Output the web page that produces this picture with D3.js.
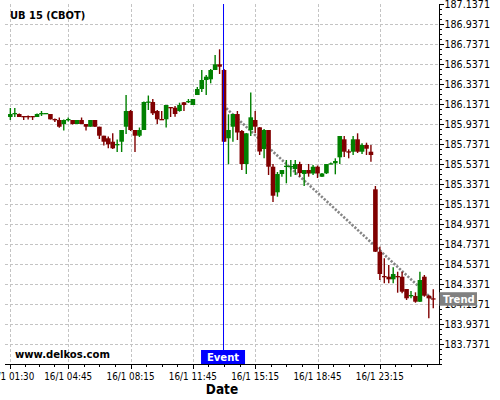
<!DOCTYPE html>
<head>
	<meta charset="utf-8">
	<script src="https://d3js.org/d3.v7.min.js"></script>
	<style>
		body { margin: 0; background: #fff; }
		text { font-family: "DejaVu Sans Condensed", "DejaVu Sans", sans-serif; }
	</style>
</head>
<body>
<svg width="500" height="400"></svg>
<script>
	// candles: open, high, low, close (15 min bars)
	var opens = [186.007, 186.037, 186.037, 186.017, 186.017, 186.017, 186.007, 186.037, 186.042, 186.037,
		185.987, 185.977, 185.937, 185.982, 185.977, 185.937, 185.977, 185.937, 185.910, 185.977,
		185.910, 185.820, 185.794, 185.760, 185.732, 185.760, 185.910, 186.067, 185.877, 185.820,
		185.877, 186.157, 186.157, 186.067, 185.987, 185.984, 186.107, 186.100, 186.067, 186.154,
		186.162, 186.127, 186.227, 186.287, 186.377, 186.384, 186.477, 186.534, 186.477, 185.794,
		185.910, 186.037, 185.867, 185.537, 185.877, 185.977, 185.904, 185.687, 185.877, 185.510,
		185.254, 185.437, 185.517, 185.514, 185.487, 185.537, 185.437, 185.477, 185.442, 185.510,
		185.410, 185.444, 185.542, 185.544, 185.604, 185.784, 185.664, 185.660, 185.784, 185.660,
		185.727, 185.660, 185.284, 184.660, 184.417, 184.410, 184.384, 184.417, 184.410, 184.287,
		184.224, 184.217, 184.160, 184.410, 184.220, 184.194];
	var highs = [186.097, 186.097, 186.042, 186.017, 186.022, 186.017, 186.042, 186.067, 186.047, 186.037,
		185.992, 186.002, 185.982, 186.002, 185.977, 185.977, 186.002, 185.937, 185.977, 185.977,
		185.910, 185.820, 185.812, 185.844, 185.782, 185.877, 186.227, 186.077, 185.877, 185.902,
		186.162, 186.222, 186.187, 186.077, 186.067, 186.127, 186.107, 186.117, 186.150, 186.157,
		186.187, 186.187, 186.307, 186.477, 186.427, 186.487, 186.627, 186.684, 186.487, 186.034,
		186.037, 186.067, 185.877, 185.847, 186.252, 186.067, 185.907, 185.887, 185.877, 185.537,
		185.457, 185.477, 185.577, 185.577, 185.577, 185.560, 185.477, 185.537, 185.527, 185.522,
		185.447, 185.537, 185.552, 185.594, 185.817, 185.817, 185.684, 185.817, 185.844, 185.744,
		185.750, 185.727, 185.317, 184.710, 184.594, 184.527, 184.504, 184.460, 184.460, 184.287,
		184.267, 184.254, 184.460, 184.427, 184.227, 184.284];
	var lows = [185.977, 186.007, 186.007, 185.977, 185.982, 185.977, 186.007, 186.017, 186.037, 185.982,
		185.957, 185.900, 185.872, 185.962, 185.932, 185.937, 185.937, 185.872, 185.910, 185.907,
		185.787, 185.722, 185.694, 185.687, 185.657, 185.657, 185.837, 185.867, 185.657, 185.807,
		185.877, 186.077, 186.027, 185.937, 185.977, 185.902, 186.007, 186.010, 186.060, 186.067,
		186.147, 186.127, 186.227, 186.257, 186.227, 186.344, 186.477, 186.437, 185.757, 185.534,
		185.760, 185.777, 185.477, 185.437, 185.817, 185.847, 185.627, 185.594, 185.427, 185.157,
		185.210, 185.410, 185.344, 185.410, 185.427, 185.410, 185.317, 185.410, 185.427, 185.397,
		185.407, 185.437, 185.537, 185.434, 185.537, 185.607, 185.594, 185.627, 185.647, 185.637,
		185.627, 185.560, 184.657, 184.377, 184.344, 184.344, 184.344, 184.250, 184.244, 184.177,
		184.194, 184.150, 184.157, 184.210, 183.994, 184.094];
	var closes = [186.037, 186.047, 186.007, 186.012, 186.012, 186.012, 186.037, 186.047, 186.047, 185.984,
		185.982, 185.910, 185.977, 185.987, 185.937, 185.977, 185.937, 185.910, 185.977, 185.910,
		185.820, 185.760, 185.734, 185.694, 185.737, 185.877, 186.067, 185.877, 185.820, 185.877,
		186.157, 186.162, 186.044, 185.984, 185.984, 186.127, 186.102, 186.037, 186.127, 186.127,
		186.167, 186.187, 186.287, 186.377, 186.410, 186.477, 186.534, 186.510, 185.760, 185.877,
		186.037, 185.852, 185.537, 185.844, 186.004, 185.910, 185.662, 185.877, 185.510, 185.220,
		185.437, 185.477, 185.520, 185.517, 185.537, 185.447, 185.477, 185.442, 185.510, 185.442,
		185.442, 185.537, 185.544, 185.567, 185.817, 185.660, 185.660, 185.784, 185.660, 185.727,
		185.690, 185.627, 184.660, 184.437, 184.414, 184.384, 184.437, 184.414, 184.260, 184.194,
		184.227, 184.160, 184.377, 184.220, 184.194, 184.191];

	var xTickIdx = [0, 13, 27, 41, 55, 69, 83];
	var xTickLabels = ['16/1 01:30', '16/1 04:45', '16/1 08:15', '16/1 11:45', '16/1 15:15', '16/1 18:45', '16/1 23:15'];
	var yTickValues = [183.7371, 183.9371, 184.1371, 184.3371, 184.5371, 184.7371, 184.9371, 185.1371, 185.3371,
		185.5371, 185.7371, 185.9371, 186.1371, 186.3371, 186.5371, 186.7371, 186.9371, 187.1371];
	var eventIdx = 48;
	var trendIdx = [48.5, 94.7];
	var trendVal = [186.094, 184.19];

	var pLeft = 5, pRight = 439.5, pTop = 4, pBottom = 364;
	var svg = d3.select('svg');

	var x = d3.scaleLinear().domain([-1.2, 96.4]).range([pLeft, pRight]);
	var y = d3.scaleLinear().domain([183.5371, 187.1371]).range([pBottom, pTop]);

	var candles = opens.map(function (o, i) {
		return {i: i, o: o, h: highs[i], l: lows[i], c: closes[i]};
	});

	/* --------- GRID ---------*/
	var grid = svg.append('g').attr('stroke', '#c4c4c4').attr('stroke-dasharray', '3,2').attr('stroke-width', 1);
	grid.selectAll('line.gx').data(xTickIdx).enter().append('line')
		.attr('x1', function (d) { return Math.round(x(d)) + 0.5; })
		.attr('x2', function (d) { return Math.round(x(d)) + 0.5; })
		.attr('y1', pTop).attr('y2', pBottom);
	grid.selectAll('line.gy').data(yTickValues.slice(0, -1)).enter().append('line')
		.attr('y1', function (d) { return Math.round(y(d)) + 0.5; })
		.attr('y2', function (d) { return Math.round(y(d)) + 0.5; })
		.attr('x1', pLeft).attr('x2', pRight);

	/* --------- TREND ---------*/
	svg.append('line')
		.attr('x1', x(trendIdx[0])).attr('y1', y(trendVal[0]))
		.attr('x2', x(trendIdx[1])).attr('y2', y(trendVal[1]))
		.attr('stroke', '#858585').attr('stroke-width', 2.6).attr('stroke-dasharray', '2.2,1.6');

	/* --------- CANDLES ---------*/
	var bw = 4.6;
	var cg = svg.selectAll('g.candle').data(candles).enter().append('g')
		.attr('class', 'candle')
		.attr('fill', function (d) { return d.c >= d.o ? '#008000' : '#800000'; })
		.attr('stroke', function (d) { return d.c >= d.o ? '#008000' : '#800000'; });
	cg.append('line')
		.attr('x1', function (d) { return x(d.i); })
		.attr('x2', function (d) { return x(d.i); })
		.attr('y1', function (d) { return y(d.h); })
		.attr('y2', function (d) { return y(d.l); })
		.attr('stroke-width', 1.4);
	cg.append('rect')
		.attr('stroke', 'none')
		.attr('x', function (d) { return x(d.i) - bw / 2; })
		.attr('width', bw)
		.attr('y', function (d) { return Math.min(y(d.o), y(d.c)); })
		.attr('height', function (d) { return Math.max(1.3, Math.abs(y(d.o) - y(d.c))); });

	/* --------- EVENT ---------*/
	svg.append('line')
		.attr('x1', x(eventIdx) - 0.5).attr('x2', x(eventIdx) - 0.5)
		.attr('y1', pTop).attr('y2', pBottom)
		.attr('stroke', '#0000ff').attr('stroke-width', 1);
	svg.append('rect')
		.attr('x', x(eventIdx) - 23).attr('y', pBottom - 14).attr('width', 44).attr('height', 14)
		.attr('fill', '#0000ff');
	svg.append('text')
		.attr('x', x(eventIdx) - 1).attr('y', pBottom - 3)
		.attr('text-anchor', 'middle').attr('fill', '#fff')
		.attr('font-weight', 'bold').attr('font-size', 11.2)
		.text('Event');

	/* --------- AXES ---------*/
	var yMinor = d3.range(0, 73).map(function (k) { return 183.5371 + k * 0.05; });
	var ax = svg.append('g').attr('stroke', '#000');
	ax.append('line').attr('x1', pLeft).attr('x2', pRight + 0.5).attr('y1', pBottom + 0.5).attr('y2', pBottom + 0.5);
	ax.append('line').attr('x1', pRight).attr('x2', pRight).attr('y1', pTop).attr('y2', pBottom + 1);
	ax.selectAll('line.ym').data(yMinor).enter().append('line')
		.attr('x1', pRight).attr('x2', pRight + 2.5)
		.attr('y1', function (d) { return Math.round(y(d)) + 0.5; })
		.attr('y2', function (d) { return Math.round(y(d)) + 0.5; });
	ax.selectAll('line.yM').data(yTickValues).enter().append('line')
		.attr('x1', pRight).attr('x2', pRight + 4.5)
		.attr('y1', function (d) { return Math.round(y(d)) + 0.5; })
		.attr('y2', function (d) { return Math.round(y(d)) + 0.5; });

	var xMinor = [];
	xTickIdx.forEach(function (d, k) {
		var nxt = k < xTickIdx.length - 1 ? xTickIdx[k + 1] : d + 14;
		for (var q = 1; q < 4; q++) xMinor.push(d + (nxt - d) * q / 4);
	});
	ax.selectAll('line.xm').data(xMinor.filter(function (d) { return x(d) < pRight; })).enter().append('line')
		.attr('x1', function (d) { return Math.round(x(d)) + 0.5; })
		.attr('x2', function (d) { return Math.round(x(d)) + 0.5; })
		.attr('y1', pBottom).attr('y2', pBottom + 3);
	ax.selectAll('line.xM').data(xTickIdx).enter().append('line')
		.attr('x1', function (d) { return Math.round(x(d)) + 0.5; })
		.attr('x2', function (d) { return Math.round(x(d)) + 0.5; })
		.attr('y1', pBottom).attr('y2', pBottom + 5);

	svg.selectAll('text.yl').data(yTickValues).enter().append('text')
		.attr('x', pRight + 5).attr('y', function (d) { return y(d) + 3.8; })
		.attr('font-size', 10.6).attr('fill', '#000')
		.text(function (d) { return d.toFixed(4); });

	svg.selectAll('text.xl').data(xTickIdx).enter().append('text')
		.attr('x', function (d) { return x(d); }).attr('y', 380)
		.attr('text-anchor', 'middle').attr('font-size', 9.8).attr('fill', '#000')
		.text(function (d, k) { return xTickLabels[k]; });

	/* --------- TREND LABEL ---------*/
	svg.append('rect').attr('x', pRight).attr('y', y(trendVal[1]) - 6.5).attr('width', 37.5).attr('height', 13.5)
		.attr('fill', '#808080');
	svg.append('text').attr('x', pRight + 3.5).attr('y', y(trendVal[1]) + 4.2)
		.attr('fill', '#fff').attr('font-weight', 'bold').attr('font-size', 11.2)
		.text('Trend');

	/* --------- TITLES ---------*/
	svg.append('text').attr('x', 10).attr('y', 19).attr('font-weight', 'bold').attr('font-size', 11).text('UB 15 (CBOT)');
	svg.append('text').attr('x', 15).attr('y', 357.5).attr('font-weight', 'bold').attr('font-size', 11.2).text('www.delkos.com');
	svg.append('text').attr('x', 222).attr('y', 394).attr('text-anchor', 'middle').attr('font-weight', 'bold').attr('font-size', 13.5).text('Date');
</script>
</body>
